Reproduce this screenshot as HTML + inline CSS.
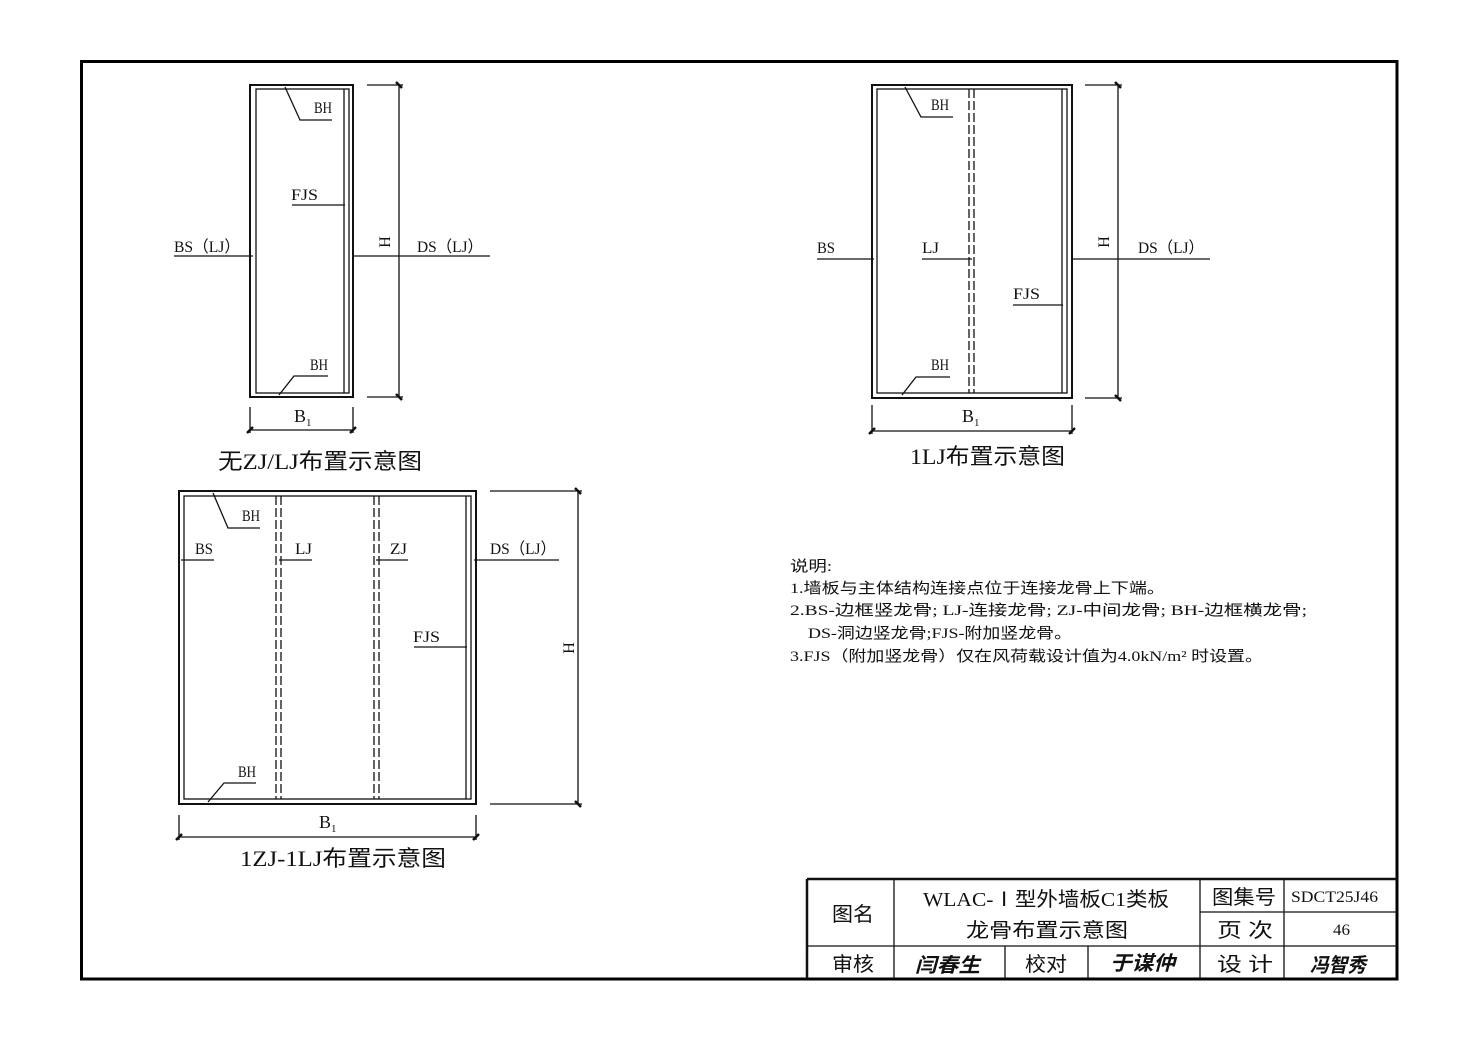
<!DOCTYPE html>
<html><head><meta charset="utf-8"><style>
html,body{margin:0;padding:0;background:#fff;}
svg{display:block;}
text{font-family:"Liberation Serif","Noto Sans CJK SC",serif;fill:#111;}
</style></head><body>
<svg width="1477" height="1039" viewBox="0 0 1477 1039" xmlns="http://www.w3.org/2000/svg">
<rect x="0" y="0" width="1477" height="1039" fill="#fff"/>
<rect x="81.5" y="61.5" width="1315.5" height="917.5" fill="none" stroke="#000" stroke-width="3"/>

<g stroke="#111" stroke-width="1.3" fill="none">
<!-- Diagram 1 -->
<rect x="250" y="85" width="103" height="312" stroke-width="2"/>
<rect x="256" y="89" width="93" height="304"/>
<line x1="344" y1="89" x2="344" y2="393"/>
<polyline points="285,87 300,120 332,120"/>
<line x1="292" y1="205" x2="345" y2="205"/>
<line x1="174" y1="256" x2="253" y2="256"/>
<line x1="353" y1="256" x2="490" y2="256"/>
<polyline points="279,395 294,376 328,376"/>
<line x1="399" y1="85" x2="399" y2="397"/>
<line x1="367" y1="85" x2="403" y2="85"/>
<line x1="367" y1="397" x2="403" y2="397"/>
<line x1="396" y1="82" x2="402" y2="88" stroke-width="2.5"/>
<line x1="396" y1="394" x2="402" y2="400" stroke-width="2.5"/>
<line x1="250" y1="430" x2="353" y2="430"/>
<line x1="250" y1="407" x2="250" y2="433"/>
<line x1="353" y1="407" x2="353" y2="433"/>
<line x1="247" y1="433" x2="253" y2="427" stroke-width="2.5"/>
<line x1="350" y1="433" x2="356" y2="427" stroke-width="2.5"/>

<!-- Diagram 2 -->
<rect x="872" y="85" width="200" height="313" stroke-width="2"/>
<rect x="877" y="89" width="190" height="304"/>
<line x1="1062" y1="89" x2="1062" y2="393"/>
<line x1="969" y1="89" x2="969" y2="393" stroke-dasharray="9,3"/>
<line x1="974" y1="89" x2="974" y2="393" stroke-dasharray="9,3"/>
<polyline points="905,87 921,117 953,117"/>
<line x1="817" y1="259" x2="874" y2="259"/>
<line x1="922" y1="259" x2="972" y2="259"/>
<line x1="1072" y1="259" x2="1210" y2="259"/>
<line x1="1013" y1="305" x2="1063" y2="305"/>
<polyline points="902,395 916,377 950,377"/>
<line x1="1118" y1="85" x2="1118" y2="398"/>
<line x1="1085" y1="85" x2="1122" y2="85"/>
<line x1="1085" y1="398" x2="1122" y2="398"/>
<line x1="1115" y1="82" x2="1121" y2="88" stroke-width="2.5"/>
<line x1="1115" y1="395" x2="1121" y2="401" stroke-width="2.5"/>
<line x1="872" y1="431" x2="1072" y2="431"/>
<line x1="872" y1="405" x2="872" y2="434"/>
<line x1="1072" y1="405" x2="1072" y2="434"/>
<line x1="869" y1="434" x2="875" y2="428" stroke-width="2.5"/>
<line x1="1069" y1="434" x2="1075" y2="428" stroke-width="2.5"/>

<!-- Diagram 3 -->
<rect x="179" y="491" width="297" height="313" stroke-width="2"/>
<rect x="184" y="496" width="287" height="303"/>
<line x1="466" y1="496" x2="466" y2="799"/>
<line x1="276" y1="496" x2="276" y2="799" stroke-dasharray="9,3"/>
<line x1="281" y1="496" x2="281" y2="799" stroke-dasharray="9,3"/>
<line x1="374" y1="496" x2="374" y2="799" stroke-dasharray="9,3"/>
<line x1="379" y1="496" x2="379" y2="799" stroke-dasharray="9,3"/>
<polyline points="213,493 228,528 260,528"/>
<line x1="181" y1="560" x2="214" y2="560"/>
<line x1="279" y1="560" x2="312" y2="560"/>
<line x1="376" y1="560" x2="408" y2="560"/>
<line x1="474" y1="560" x2="559" y2="560"/>
<line x1="414" y1="647" x2="467" y2="647"/>
<polyline points="208,802 224,783 256,783"/>
<line x1="578" y1="491" x2="578" y2="804"/>
<line x1="490" y1="491" x2="582" y2="491"/>
<line x1="490" y1="804" x2="582" y2="804"/>
<line x1="575" y1="488" x2="581" y2="494" stroke-width="2.5"/>
<line x1="575" y1="801" x2="581" y2="807" stroke-width="2.5"/>
<line x1="179" y1="837" x2="476" y2="837"/>
<line x1="179" y1="815" x2="179" y2="840"/>
<line x1="476" y1="815" x2="476" y2="840"/>
<line x1="176" y1="840" x2="182" y2="834" stroke-width="2.5"/>
<line x1="473" y1="840" x2="479" y2="834" stroke-width="2.5"/>

<!-- Title block -->
<line x1="807" y1="879" x2="1397" y2="879" stroke-width="2.5"/>
<line x1="807" y1="879" x2="807" y2="979" stroke-width="2.5"/>
<line x1="807" y1="946" x2="1397" y2="946"/>
<line x1="1200" y1="912" x2="1397" y2="912"/>
<line x1="894" y1="879" x2="894" y2="979"/>
<line x1="1200" y1="879" x2="1200" y2="979"/>
<line x1="1284" y1="879" x2="1284" y2="979"/>
<line x1="1005" y1="946" x2="1005" y2="979"/>
<line x1="1088" y1="946" x2="1088" y2="979"/>
</g>

<g font-size="16">
<text x="314" y="113" textLength="18" lengthAdjust="spacingAndGlyphs">BH</text>
<text x="291" y="200" textLength="27" lengthAdjust="spacingAndGlyphs">FJS</text>
<text x="174" y="252" textLength="66" lengthAdjust="spacingAndGlyphs">BS（LJ）</text>
<text x="417" y="252" textLength="66" lengthAdjust="spacingAndGlyphs">DS（LJ）</text>
<text x="310" y="370" textLength="18" lengthAdjust="spacingAndGlyphs">BH</text>
<text x="294" y="422" font-size="18">B<tspan font-size="11" dy="4">1</tspan></text>
<text transform="translate(390,242) rotate(-90)" text-anchor="middle" font-size="16">H</text>

<text x="931" y="110" textLength="18" lengthAdjust="spacingAndGlyphs">BH</text>
<text x="817" y="253" textLength="18" lengthAdjust="spacingAndGlyphs">BS</text>
<text x="922" y="253" textLength="17" lengthAdjust="spacingAndGlyphs">LJ</text>
<text x="1138" y="253" textLength="66" lengthAdjust="spacingAndGlyphs">DS（LJ）</text>
<text x="1013" y="299" textLength="27" lengthAdjust="spacingAndGlyphs">FJS</text>
<text x="931" y="370" textLength="18" lengthAdjust="spacingAndGlyphs">BH</text>
<text x="962" y="422" font-size="18">B<tspan font-size="11" dy="4">1</tspan></text>
<text transform="translate(1109,242) rotate(-90)" text-anchor="middle" font-size="16">H</text>

<text x="242" y="521" textLength="18" lengthAdjust="spacingAndGlyphs">BH</text>
<text x="195" y="554" textLength="18" lengthAdjust="spacingAndGlyphs">BS</text>
<text x="295" y="554" textLength="17" lengthAdjust="spacingAndGlyphs">LJ</text>
<text x="390" y="554" textLength="17" lengthAdjust="spacingAndGlyphs">ZJ</text>
<text x="490" y="554" textLength="66" lengthAdjust="spacingAndGlyphs">DS（LJ）</text>
<text x="413" y="642" textLength="27" lengthAdjust="spacingAndGlyphs">FJS</text>
<text x="238" y="777" textLength="18" lengthAdjust="spacingAndGlyphs">BH</text>
<text x="319" y="828" font-size="18">B<tspan font-size="11" dy="4">1</tspan></text>
<text transform="translate(574,648) rotate(-90)" text-anchor="middle" font-size="16">H</text>
</g>

<g font-size="22">
<text x="218" y="469" textLength="204" lengthAdjust="spacingAndGlyphs">无ZJ/LJ布置示意图</text>
<text x="910" y="464" textLength="155" lengthAdjust="spacingAndGlyphs">1LJ布置示意图</text>
<text x="240" y="866" textLength="206" lengthAdjust="spacingAndGlyphs">1ZJ-1LJ布置示意图</text>
</g>

<g font-size="15">
<text x="790" y="571" textLength="42" lengthAdjust="spacingAndGlyphs">说明:</text>
<text x="790" y="593" textLength="375" lengthAdjust="spacingAndGlyphs">1.墙板与主体结构连接点位于连接龙骨上下端。</text>
<text x="790" y="615" textLength="517" lengthAdjust="spacingAndGlyphs">2.BS-边框竖龙骨; LJ-连接龙骨; ZJ-中间龙骨; BH-边框横龙骨;</text>
<text x="808" y="638" textLength="264" lengthAdjust="spacingAndGlyphs">DS-洞边竖龙骨;FJS-附加竖龙骨。</text>
<text x="790" y="661" textLength="473" lengthAdjust="spacingAndGlyphs">3.FJS（附加竖龙骨）仅在风荷载设计值为4.0kN/m² 时设置。</text>
</g>

<g font-size="20">
<text x="832" y="921" textLength="42" lengthAdjust="spacingAndGlyphs">图名</text>
<text x="923" y="906" textLength="246" lengthAdjust="spacingAndGlyphs">WLAC-Ⅰ型外墙板C1类板</text>
<text x="966" y="937" textLength="162" lengthAdjust="spacingAndGlyphs">龙骨布置示意图</text>
<text x="832" y="971" textLength="42" lengthAdjust="spacingAndGlyphs">审核</text>
<text x="1025" y="971" textLength="42" lengthAdjust="spacingAndGlyphs">校对</text>
<text x="1212" y="904" textLength="64" lengthAdjust="spacingAndGlyphs">图集号</text>
<text x="1217" y="937" textLength="56" lengthAdjust="spacingAndGlyphs">页 次</text>
<text x="1217" y="971" textLength="56" lengthAdjust="spacingAndGlyphs">设 计</text>
</g>
<g font-size="16">
<text x="1291" y="902" textLength="87" lengthAdjust="spacingAndGlyphs">SDCT25J46</text>
<text x="1333" y="935" textLength="17" lengthAdjust="spacingAndGlyphs">46</text>
</g>
<g font-size="20" font-weight="bold" font-style="italic">
<text x="915" y="972" textLength="65" lengthAdjust="spacingAndGlyphs">闫春生</text>
<text x="1110" y="970" textLength="65" lengthAdjust="spacingAndGlyphs">于谋仲</text>
<text x="1310" y="972" textLength="56" lengthAdjust="spacingAndGlyphs">冯智秀</text>
</g>
</svg>
</body></html>
